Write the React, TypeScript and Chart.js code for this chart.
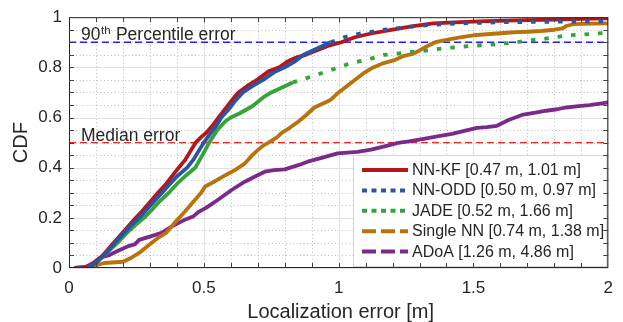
import React, { useEffect, useRef } from "react";
import { Chart, registerables } from "chart.js";

Chart.register(...registerables);

const FONT = '"Liberation Sans", Arial, Helvetica, sans-serif';
const TEXT = "#262626";

// ---- data ----
const seriesLabels = [
  "NN-KF [0.47 m, 1.01 m]",
  "NN-ODD [0.50 m, 0.97 m]",
  "JADE [0.52 m, 1.66 m]",
  "Single NN [0.74 m, 1.38 m]",
  "ADoA [1.26 m, 4.86 m]",
];

const nnkfX = [0.02, 0.06, 0.09, 0.11, 0.125, 0.145, 0.165, 0.19, 0.215, 0.248, 0.27, 0.3, 0.33, 0.36, 0.385, 0.407, 0.43, 0.45, 0.47, 0.49, 0.51, 0.53, 0.555, 0.58, 0.605, 0.628, 0.66, 0.7, 0.74, 0.78, 0.81, 0.845, 0.878, 0.92, 0.96, 1.01, 1.06, 1.12, 1.2, 1.27, 1.35, 1.45, 1.55, 1.7, 1.8, 1.9, 2.0];
const nnkfY = [0, 0.003, 0.015, 0.035, 0.05, 0.075, 0.1, 0.13, 0.16, 0.2, 0.225, 0.262, 0.3, 0.335, 0.37, 0.4, 0.43, 0.465, 0.5, 0.522, 0.54, 0.565, 0.6, 0.635, 0.67, 0.7, 0.725, 0.752, 0.784, 0.8, 0.823, 0.84, 0.85, 0.868, 0.885, 0.9, 0.92, 0.935, 0.95, 0.963, 0.975, 0.98, 0.984, 0.988, 0.99, 0.993, 0.995];

const nnoddX = [0.03, 0.07, 0.1, 0.115, 0.13, 0.15, 0.17, 0.2, 0.23, 0.26, 0.29, 0.32, 0.345, 0.37, 0.4, 0.438, 0.46, 0.48, 0.5, 0.52, 0.545, 0.565, 0.59, 0.615, 0.645, 0.68, 0.72, 0.76, 0.8, 0.84, 0.87, 0.91, 0.94, 0.97, 1.02, 1.08, 1.17, 1.25, 1.35, 1.45, 1.6, 1.8, 2.0];
const nnoddY = [0, 0.003, 0.02, 0.035, 0.05, 0.075, 0.1, 0.135, 0.17, 0.2, 0.235, 0.27, 0.3, 0.33, 0.365, 0.4, 0.43, 0.465, 0.5, 0.53, 0.565, 0.6, 0.63, 0.665, 0.7, 0.725, 0.75, 0.78, 0.8, 0.825, 0.85, 0.87, 0.885, 0.9, 0.92, 0.935, 0.95, 0.96, 0.97, 0.975, 0.98, 0.982, 0.984];

const jadeX = [0.04, 0.08, 0.1, 0.115, 0.13, 0.155, 0.18, 0.21, 0.245, 0.278, 0.31, 0.34, 0.37, 0.4, 0.435, 0.468, 0.495, 0.52, 0.55, 0.58, 0.6, 0.63, 0.68, 0.72, 0.75, 0.79, 0.83, 0.86, 0.91, 0.96, 1.0, 1.035, 1.08, 1.12, 1.17, 1.22, 1.26, 1.33, 1.39, 1.45, 1.51, 1.56, 1.61, 1.66, 1.7, 1.75, 1.8, 1.85, 1.9, 1.95, 2.0];
const jadeY = [0, 0.005, 0.02, 0.035, 0.05, 0.075, 0.1, 0.135, 0.17, 0.2, 0.235, 0.27, 0.3, 0.335, 0.37, 0.4, 0.45, 0.5, 0.55, 0.585, 0.6, 0.615, 0.645, 0.68, 0.7, 0.72, 0.74, 0.75, 0.767, 0.785, 0.8, 0.813, 0.825, 0.835, 0.85, 0.855, 0.86, 0.868, 0.876, 0.882, 0.887, 0.89, 0.895, 0.9, 0.907, 0.912, 0.92, 0.928, 0.93, 0.935, 0.937];

const singleX = [0.07, 0.1, 0.13, 0.16, 0.2, 0.23, 0.26, 0.3, 0.33, 0.36, 0.4, 0.43, 0.466, 0.49, 0.505, 0.54, 0.58, 0.615, 0.65, 0.68, 0.7, 0.72, 0.74, 0.77, 0.79, 0.82, 0.85, 0.88, 0.91, 0.97, 1.0, 1.03, 1.06, 1.09, 1.12, 1.167, 1.21, 1.24, 1.278, 1.32, 1.363, 1.4, 1.45, 1.5, 1.55, 1.6, 1.65, 1.7, 1.75, 1.8, 1.83, 1.845, 1.87, 1.9, 1.95, 2.0];
const singleY = [0, 0.01, 0.02, 0.022, 0.025, 0.04, 0.06, 0.095, 0.12, 0.14, 0.19, 0.225, 0.27, 0.3, 0.325, 0.345, 0.37, 0.39, 0.415, 0.45, 0.47, 0.488, 0.5, 0.52, 0.54, 0.56, 0.583, 0.61, 0.64, 0.67, 0.7, 0.725, 0.75, 0.775, 0.795, 0.817, 0.83, 0.845, 0.855, 0.88, 0.902, 0.91, 0.92, 0.928, 0.932, 0.936, 0.94, 0.942, 0.945, 0.95, 0.955, 0.965, 0.972, 0.973, 0.974, 0.975];

const adoaX = [0.02, 0.06, 0.09, 0.113, 0.146, 0.18, 0.215, 0.245, 0.26, 0.3, 0.343, 0.38, 0.425, 0.46, 0.481, 0.508, 0.55, 0.603, 0.652, 0.69, 0.726, 0.76, 0.8, 0.85, 0.885, 0.94, 0.996, 1.07, 1.12, 1.17, 1.22, 1.26, 1.3, 1.366, 1.42, 1.47, 1.513, 1.55, 1.587, 1.63, 1.685, 1.73, 1.77, 1.81, 1.845, 1.89, 1.93, 1.97, 2.0];
const adoaY = [0, 0.003, 0.02, 0.04, 0.05, 0.068, 0.085, 0.095, 0.112, 0.125, 0.14, 0.165, 0.19, 0.205, 0.224, 0.24, 0.27, 0.311, 0.344, 0.365, 0.384, 0.39, 0.393, 0.41, 0.424, 0.44, 0.457, 0.463, 0.472, 0.485, 0.499, 0.505, 0.512, 0.525, 0.535, 0.548, 0.559, 0.562, 0.567, 0.59, 0.612, 0.62, 0.627, 0.633, 0.64, 0.645, 0.649, 0.655, 0.66];

const percentile90Level = 0.9;
const medianLevel = 0.5;
const refRangeX = [0, 2];

const xTickValues = [0, 0.5, 1, 1.5, 2];
const yTickValues = [0, 0.2, 0.4, 0.6, 0.8, 1];

const seriesColors = ["#b3171c", "#2a55a0", "#37a23a", "#b8730c", "#7a2a8b"];
const legendDashes: number[][] = [[], [5, 4.5], [5, 4.5], [14, 5], [14, 5]];

const toPts = (xs: number[], ys: number[]) => xs.map((x, i) => ({ x, y: ys[i] }));

const dotWhenFlat = (c: any) => {
  const dx = c.p1.parsed.x - c.p0.parsed.x;
  const dy = c.p1.parsed.y - c.p0.parsed.y;
  return dx > 0 && dy / dx < 0.42 ? [4.5, 9] : undefined;
};

const decorPlugin = {
  id: "decor",
  beforeDatasetsDraw(chart: any) {
    const { ctx, chartArea, scales } = chart;
    const { left, right, top, bottom } = chartArea;
    const xs = scales.x;
    const ys = scales.y;
    ctx.save();
    ctx.lineWidth = 1;
    ctx.strokeStyle = "#bdbdbd";
    ctx.setLineDash([1, 2.5]);
    for (let i = 1; i < 20; i++) {
      if (i % 5 === 0) continue;
      const px = Math.round(xs.getPixelForValue(i * 0.1)) + 0.5;
      ctx.beginPath();
      ctx.moveTo(px, top);
      ctx.lineTo(px, bottom);
      ctx.stroke();
    }
    for (let j = 1; j < 20; j++) {
      if (j % 4 === 0) continue;
      const py = Math.round(ys.getPixelForValue(j * 0.05)) + 0.5;
      ctx.beginPath();
      ctx.moveTo(left, py);
      ctx.lineTo(right, py);
      ctx.stroke();
    }
    ctx.setLineDash([]);
    ctx.strokeStyle = "#e0e0e0";
    xTickValues.forEach((v) => {
      const px = Math.round(xs.getPixelForValue(v)) + 0.5;
      ctx.beginPath();
      ctx.moveTo(px, top);
      ctx.lineTo(px, bottom);
      ctx.stroke();
    });
    yTickValues.forEach((v) => {
      const py = Math.round(ys.getPixelForValue(v)) + 0.5;
      ctx.beginPath();
      ctx.moveTo(left, py);
      ctx.lineTo(right, py);
      ctx.stroke();
    });
    ctx.restore();
  },
  afterDatasetsDraw(chart: any) {
    const { ctx, chartArea, scales } = chart;
    const { left, right, top, bottom } = chartArea;
    const xs = scales.x;
    const ys = scales.y;
    ctx.save();

    // annotations
    ctx.fillStyle = TEXT;
    ctx.textBaseline = "alphabetic";
    ctx.textAlign = "left";
    const ax = 81;
    const y90 = ys.getPixelForValue(percentile90Level) - 2;
    ctx.font = `17.5px ${FONT}`;
    ctx.fillText("90", ax, y90);
    const w90 = ctx.measureText("90").width;
    ctx.font = `11.5px ${FONT}`;
    ctx.fillText("th", ax + w90 + 0.5, y90 - 6.5);
    const wth = ctx.measureText("th").width;
    ctx.font = `17.5px ${FONT}`;
    ctx.fillText(" Percentile error", ax + w90 + wth + 1, y90);
    ctx.fillText("Median error", ax, ys.getPixelForValue(medianLevel) - 1.5);

    // legend
    const lx = 353;
    const ly = 155;
    const lw = right - 2 - lx;
    const lh = bottom - 2 - ly;
    ctx.fillStyle = "#ffffff";
    ctx.fillRect(lx, ly, lw, lh);
    ctx.strokeStyle = "#d6d6d6";
    ctx.lineWidth = 1;
    ctx.strokeRect(lx + 0.5, ly + 0.5, lw, lh);
    ctx.font = `16px ${FONT}`;
    ctx.textBaseline = "middle";
    chart.data.datasets.forEach((ds: any) => {
      if (ds.legendIndex === undefined) return;
      const k = ds.legendIndex;
      const ry = 170 + k * 20.4;
      ctx.save();
      ctx.strokeStyle = ds.borderColor;
      ctx.lineWidth = 4;
      ctx.lineCap = "butt";
      ctx.setLineDash(legendDashes[k]);
      ctx.beginPath();
      ctx.moveTo(362, ry);
      ctx.lineTo(408, ry);
      ctx.stroke();
      ctx.restore();
      ctx.fillStyle = TEXT;
      ctx.fillText(ds.label, 412, ry + 0.5);
    });

    // axes box + ticks
    ctx.strokeStyle = TEXT;
    ctx.lineWidth = 1;
    ctx.setLineDash([]);
    ctx.strokeRect(left + 0.5, top + 0.5, right - left - 1, bottom - top - 1);
    ctx.strokeStyle = "#404040";
    const tl = 5;
    for (let i = 1; i < 20; i++) {
      const px = Math.round(xs.getPixelForValue(i * 0.1)) + 0.5;
      ctx.beginPath();
      ctx.moveTo(px, bottom);
      ctx.lineTo(px, bottom - tl);
      ctx.moveTo(px, top);
      ctx.lineTo(px, top + tl);
      ctx.stroke();
    }
    for (let j = 1; j < 20; j++) {
      const py = Math.round(ys.getPixelForValue(j * 0.05)) + 0.5;
      ctx.beginPath();
      ctx.moveTo(left, py);
      ctx.lineTo(left + tl, py);
      ctx.moveTo(right, py);
      ctx.lineTo(right - tl, py);
      ctx.stroke();
    }

    // axis titles
    ctx.fillStyle = TEXT;
    ctx.font = `20px ${FONT}`;
    ctx.textAlign = "center";
    ctx.textBaseline = "alphabetic";
    ctx.fillText("Localization error [m]", (left + right) / 2 + 2, 318);
    ctx.save();
    ctx.translate(27, (top + bottom) / 2);
    ctx.rotate(-Math.PI / 2);
    ctx.fillText("CDF", 0, 0);
    ctx.restore();

    ctx.restore();
  },
};

export default function App() {
  const ref = useRef<HTMLCanvasElement>(null);

  useEffect(() => {
    document.body.style.margin = "0";
    const canvas = ref.current;
    if (!canvas) return;
    const lineBase = {
      fill: false,
      pointRadius: 0,
      tension: 0,
      borderWidth: 3.8,
      borderCapStyle: "butt",
      borderJoinStyle: "round",
    };
    const chart = new Chart(canvas, {
      type: "line",
      data: {
        datasets: [
          { ...lineBase, label: seriesLabels[0], legendIndex: 0, data: toPts(nnkfX, nnkfY), borderColor: seriesColors[0], order: 1 },
          { ...lineBase, label: seriesLabels[1], legendIndex: 1, data: toPts(nnoddX, nnoddY), borderColor: seriesColors[1], segment: { borderDash: dotWhenFlat }, order: 0 },
          { ...lineBase, label: seriesLabels[2], legendIndex: 2, data: toPts(jadeX, jadeY), borderColor: seriesColors[2], segment: { borderDash: dotWhenFlat }, order: 2 },
          { ...lineBase, label: seriesLabels[3], legendIndex: 3, data: toPts(singleX, singleY), borderColor: seriesColors[3], order: 3 },
          { ...lineBase, label: seriesLabels[4], legendIndex: 4, data: toPts(adoaX, adoaY), borderColor: seriesColors[4], order: 4 },
          {
            label: "90th percentile",
            data: refRangeX.map((x) => ({ x, y: percentile90Level })),
            borderColor: "#1f1fff",
            borderWidth: 1.4,
            borderDash: [7, 4],
            pointRadius: 0,
            order: 6,
          },
          {
            label: "median",
            data: refRangeX.map((x) => ({ x, y: medianLevel })),
            borderColor: "#ff2020",
            borderWidth: 1.4,
            borderDash: [7, 4],
            pointRadius: 0,
            order: 5,
          },
        ] as any,
      },
      options: {
        animation: false,
        responsive: false,
        maintainAspectRatio: false,
        layout: { padding: { top: 17, right: 10, left: 0, bottom: 0 } },
        plugins: { legend: { display: false }, tooltip: { enabled: false } },
        scales: {
          x: {
            type: "linear",
            min: 0,
            max: 2,
            afterFit: (s: any) => {
              s.height = 54;
            },
            afterBuildTicks: (s: any) => {
              s.ticks = xTickValues.map((v) => ({ value: v }));
            },
            ticks: {
              padding: 10,
              color: TEXT,
              font: { family: FONT, size: 17 },
              maxRotation: 0,
              autoSkip: false,
              callback: (v: any) => String(v),
            },
            grid: { display: false, drawTicks: false },
            border: { display: false },
          },
          y: {
            type: "linear",
            min: 0,
            max: 1,
            afterFit: (s: any) => {
              s.width = 69;
            },
            afterBuildTicks: (s: any) => {
              s.ticks = yTickValues.map((v) => ({ value: v }));
            },
            ticks: {
              padding: 7,
              color: TEXT,
              font: { family: FONT, size: 17 },
              autoSkip: false,
              callback: (v: any) => String(v),
            },
            grid: { display: false, drawTicks: false },
            border: { display: false },
          },
        },
      } as any,
      plugins: [decorPlugin],
    });
    return () => chart.destroy();
  }, []);

  return (
    <div style={{ width: 623, height: 322 }}>
      <canvas ref={ref} width={623} height={322} style={{ display: "block", width: 623, height: 322 }} />
    </div>
  );
}
